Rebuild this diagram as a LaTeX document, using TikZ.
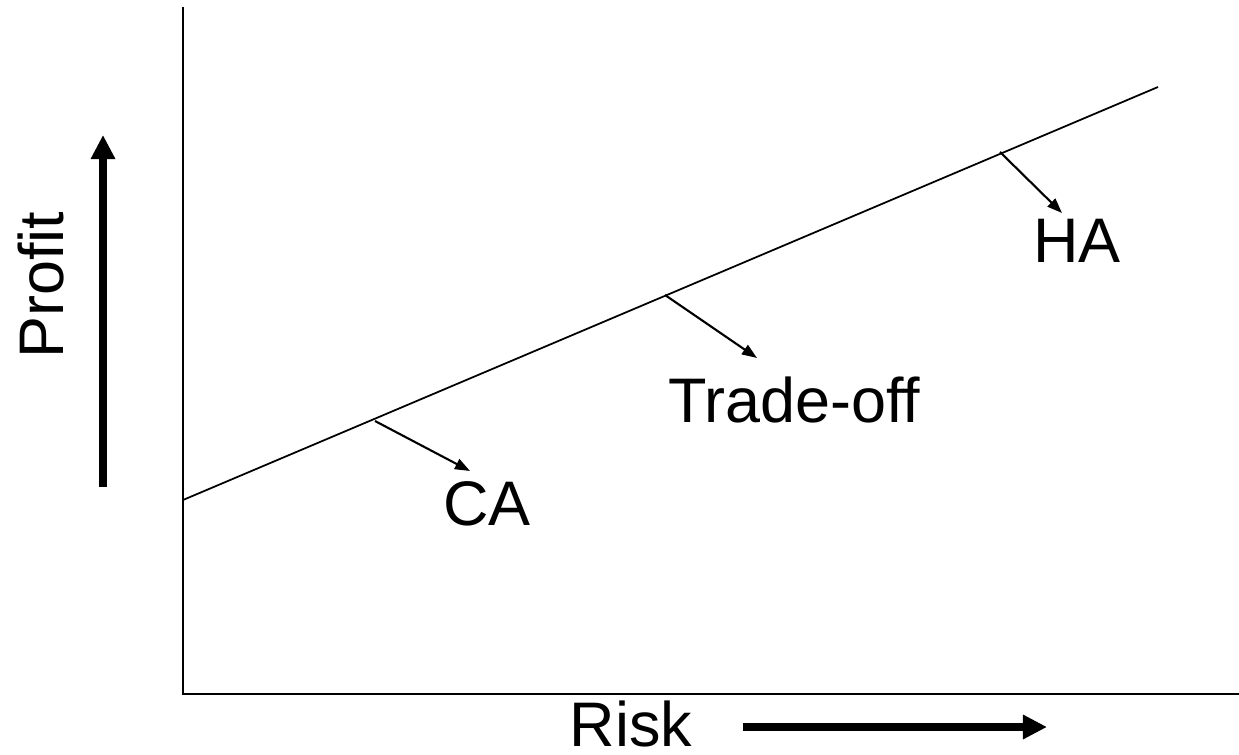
\documentclass[tikz,border=0pt]{standalone}
\usepackage{fontspec}
\setmainfont{Liberation Sans}
\usetikzlibrary{positioning,arrows.meta}

\begin{document}
\begin{tikzpicture}[
        x=0.01cm,
        y=-0.01cm,
        axis/.style={line width=0.65pt},
        trend/.style={line width=0.5pt},
        pointer/.style={line width=0.6pt, -{Triangle[length=0.15cm, width=0.11cm]}},
        bigarrow/.style={line width=0.08cm, -{Triangle[length=0.24cm, width=0.23cm]}},
        lbl/.style={font=\fontsize{17.9}{20}\selectfont, inner sep=0pt, anchor=base}
    ]
        \useasboundingbox (0,0) rectangle (1239,755);

        \coordinate (origin) at (183,694);
        \coordinate (ytop) at (183,7);
        \coordinate (xend) at (1239,694);
        \coordinate (lo) at (183,500);
        \coordinate (hi) at (1158,87);

        \coordinate (caFoot) at (375,421);
        \coordinate (caTip) at (470,471);
        \coordinate (toFoot) at (665,295);
        \coordinate (toTip) at (757,358);
        \coordinate (haFoot) at (1000,152);
        \coordinate (haTip) at (1062,213);

        \coordinate (upFrom) at (103,487);
        \coordinate (upTo) at (103,135);
        \coordinate (rightFrom) at (743,727);
        \coordinate (rightTo) at (1047,727);

        \node[lbl] (ca) at (487,526) {CA};
        \node[lbl] (tradeoff) at (794,423) {Trade-off};
        \node[lbl] (ha) at (1077,263) {HA};
        \node[lbl] (risk) at (631,746) {Risk};
        \node[lbl, rotate=90] (profit) at (63,285) {Profit};

        \draw[axis] (ytop) -- (origin) -- (xend);
        \draw[trend] (lo) -- (hi);

        \draw[pointer] (caFoot) -- (caTip);
        \draw[pointer] (toFoot) -- (toTip);
        \draw[pointer] (haFoot) -- (haTip);

        \draw[bigarrow] (upFrom) -- (upTo);
        \draw[bigarrow] (rightFrom) -- (rightTo);
    \end{tikzpicture}
\end{document}
